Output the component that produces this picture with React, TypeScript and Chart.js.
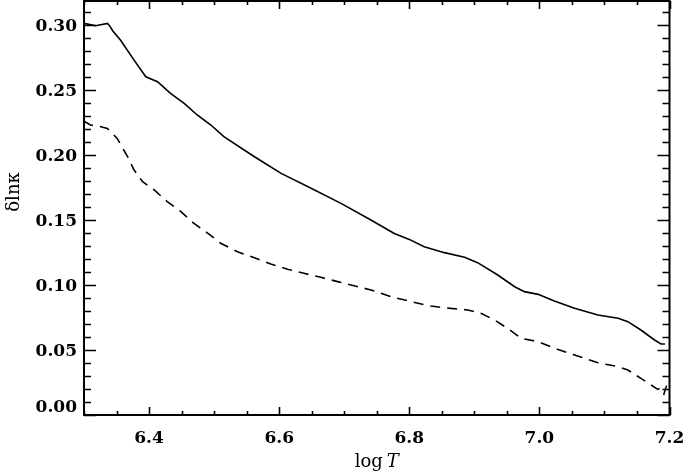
import React, { useEffect, useRef } from "react";
import { Chart, registerables } from "chart.js";

Chart.register(...registerables);

// log T values and δ ln κ values
const solidLogT = [6.300, 6.318, 6.336, 6.340, 6.344, 6.356, 6.377, 6.395, 6.413, 6.433, 6.454, 6.474, 6.495, 6.515, 6.562, 6.603, 6.649, 6.695, 6.741, 6.777, 6.800, 6.823, 6.854, 6.885, 6.905, 6.936, 6.962, 6.977, 6.998, 7.023, 7.054, 7.090, 7.121, 7.136, 7.156, 7.177, 7.187, 7.193];
const solidDlnk = [0.3013, 0.2995, 0.3013, 0.2990, 0.2956, 0.2885, 0.2730, 0.2602, 0.2564, 0.2474, 0.2397, 0.2308, 0.2231, 0.2141, 0.1987, 0.1859, 0.1744, 0.1628, 0.1500, 0.1397, 0.1351, 0.1295, 0.1249, 0.1213, 0.1172, 0.1077, 0.0987, 0.0949, 0.0928, 0.0877, 0.0821, 0.0769, 0.0744, 0.0718, 0.0654, 0.0577, 0.0546, 0.0546];

const dashedLogT = [6.300, 6.310, 6.326, 6.336, 6.351, 6.367, 6.377, 6.390, 6.408, 6.428, 6.449, 6.469, 6.490, 6.510, 6.536, 6.562, 6.587, 6.613, 6.638, 6.664, 6.690, 6.721, 6.741, 6.772, 6.803, 6.833, 6.864, 6.890, 6.910, 6.931, 6.951, 6.972, 6.998, 7.023, 7.054, 7.090, 7.121, 7.136, 7.156, 7.182, 7.190, 7.195, 7.191];
const dashedDlnk = [0.2260, 0.2231, 0.2218, 0.2205, 0.2128, 0.1987, 0.1885, 0.1795, 0.1731, 0.1641, 0.1564, 0.1474, 0.1400, 0.1321, 0.1256, 0.1210, 0.1162, 0.1121, 0.1090, 0.1059, 0.1026, 0.0987, 0.0962, 0.0910, 0.0872, 0.0838, 0.0820, 0.0808, 0.0782, 0.0731, 0.0667, 0.0590, 0.0564, 0.0513, 0.0462, 0.0402, 0.0372, 0.0346, 0.0282, 0.0197, 0.0220, 0.0220, 0.0154];

const xTickValues = [6.4, 6.6, 6.8, 7.0, 7.2];
const yTickValues = [0.0, 0.05, 0.1, 0.15, 0.2, 0.25, 0.3];
const xMinorStep = 0.05;
const yMinorStep = 0.01;
const X_MIN = 6.3;
const X_MAX = 7.2;
const Y_MIN = 0;
const Y_MAX = 0.3185;
const xTitleMain = "log";
const xTitleItalic = "T";
const yTitle = "δlnκ";

const FONT = '"DejaVu Serif", serif';

const framePlugin = {
  id: "idlFrame",
  afterDraw(chart: any) {
    const { ctx, chartArea: a, scales } = chart;
    const xs = scales.x;
    const ys = scales.y;
    ctx.save();
    ctx.strokeStyle = "#000";
    ctx.lineWidth = 2;
    ctx.strokeRect(a.left, a.top, a.right - a.left, a.bottom - a.top);
    ctx.lineWidth = 1.6;
    ctx.beginPath();
    const nY = Math.round((Y_MAX - Y_MIN) / yMinorStep);
    for (let i = 0; i <= nY; i++) {
      const v = Y_MIN + i * yMinorStep;
      const y = Math.round(ys.getPixelForValue(v)) + 0.5;
      const len = i % 5 === 0 ? 12 : 7;
      ctx.moveTo(a.left, y);
      ctx.lineTo(a.left + len, y);
      ctx.moveTo(a.right, y);
      ctx.lineTo(a.right - len, y);
    }
    const nX = Math.round((X_MAX - X_MIN) / xMinorStep);
    for (let i = 0; i <= nX; i++) {
      const v = X_MIN + i * xMinorStep;
      const x = Math.round(xs.getPixelForValue(v)) + 0.5;
      const major = xTickValues.some((t) => Math.abs(t - v) < 1e-6);
      const len = major ? 8 : 4;
      ctx.moveTo(x, a.bottom);
      ctx.lineTo(x, a.bottom - len);
      ctx.moveTo(x, a.top);
      ctx.lineTo(x, a.top + len);
    }
    ctx.stroke();

    // axis titles
    ctx.fillStyle = "#000";
    ctx.textBaseline = "alphabetic";
    const fMain = "18px " + FONT;
    const fItal = "italic 18px " + FONT;
    ctx.font = fMain;
    const w1 = ctx.measureText(xTitleMain).width;
    ctx.font = fItal;
    const w2 = ctx.measureText(xTitleItalic).width;
    const gap = 4;
    const cx = (a.left + a.right) / 2;
    const start = cx - (w1 + gap + w2) / 2;
    ctx.textAlign = "left";
    ctx.font = fMain;
    ctx.fillText(xTitleMain, start, 467);
    ctx.font = fItal;
    ctx.fillText(xTitleItalic, start + w1 + gap, 467);

    ctx.save();
    ctx.translate(19, 192);
    ctx.rotate(-Math.PI / 2);
    ctx.textAlign = "center";
    ctx.font = fMain;
    ctx.fillText(yTitle, 0, 0);
    ctx.restore();
    ctx.restore();
  },
};

export default function App() {
  const ref = useRef<HTMLCanvasElement>(null);
  useEffect(() => {
    if (!ref.current) return;
    const chart = new Chart(ref.current, {
      type: "line",
      data: {
        datasets: [
          {
            data: solidLogT.map((x, i) => ({ x, y: solidDlnk[i] })),
            borderColor: "#000",
            borderWidth: 1.6,
            pointRadius: 0,
            tension: 0,
            fill: false,
          },
          {
            data: dashedLogT.map((x, i) => ({ x, y: dashedDlnk[i] })),
            borderColor: "#000",
            borderWidth: 1.6,
            borderDash: [10, 7],
            pointRadius: 0,
            tension: 0,
            fill: false,
          },
        ],
      },
      options: {
        responsive: false,
        animation: false,
        layout: { padding: { top: 1, right: 15.5, left: 0, bottom: 0 } },
        plugins: { legend: { display: false }, tooltip: { enabled: false } },
        scales: {
          x: {
            type: "linear",
            min: X_MIN,
            max: X_MAX,
            grid: { display: false, drawTicks: false },
            border: { display: false },
            afterBuildTicks: (s: any) => {
              s.ticks = xTickValues.map((v) => ({ value: v }));
            },
            afterFit: (s: any) => {
              s.height = 59;
              s.paddingLeft = 0;
              s.paddingRight = 0;
            },
            ticks: {
              callback: (v: any) => Number(v).toFixed(1),
              font: { family: FONT, size: 17, weight: "bold" },
              color: "#000",
              padding: 13,
              maxRotation: 0,
              autoSkip: false,
            },
          },
          y: {
            type: "linear",
            min: Y_MIN,
            max: Y_MAX,
            grid: { display: false, drawTicks: false },
            border: { display: false },
            afterBuildTicks: (s: any) => {
              s.ticks = yTickValues.map((v) => ({ value: v }));
            },
            afterFit: (s: any) => {
              s.width = 84;
              s.paddingTop = 0;
              s.paddingBottom = 0;
            },
            ticks: {
              callback: (v: any) => (Number(v) === 0 ? ["0.00", ""] : Number(v).toFixed(2)),
              font: { family: FONT, size: 17, weight: "bold", lineHeight: 1.1 },
              color: "#000",
              padding: 7,
              labelOffset: 2,
              autoSkip: false,
            },
          },
        },
      },
      plugins: [framePlugin],
    });
    return () => chart.destroy();
  }, []);
  return (
    <div style={{ position: "absolute", left: 0, top: 0, width: 685, height: 474, background: "#fff" }}>
      <canvas ref={ref} width={685} height={474} />
    </div>
  );
}
